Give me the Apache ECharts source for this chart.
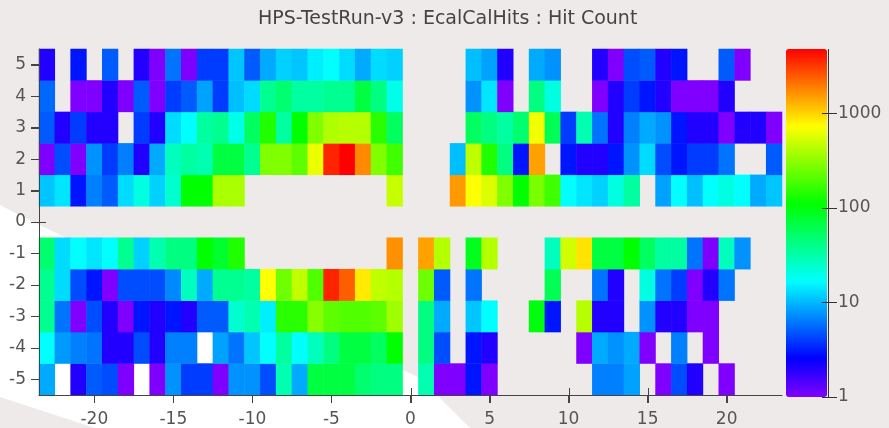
<!DOCTYPE html>
<html><head><meta charset="utf-8">
<script src="https://cdn.jsdelivr.net/npm/echarts@6/dist/echarts.min.js"></script>
<style>html,body{margin:0;padding:0;background:#efeaea}#c{width:889px;height:428px}</style>
</head><body><div id="c"></div>
<script>
// ---- data ----
const titleText = 'HPS-TestRun-v3 : EcalCalHits : Hit Count';
const xCategories = [];
for (let i = -23; i <= 23; i++) xCategories.push(String(i));
const yCategories = ['-5','-4','-3','-2','-1','0','1','2','3','4','5'];
const xTickValues = [-20, -15, -10, -5, 0, 5, 10, 15, 20];
const yTickValues = [-5, -4, -3, -2, -1, 0, 1, 2, 3, 4, 5];
const colorTicks = [1, 10, 100, 1000];
const colorMin = 1;
const colorMax = 4800;
const _ = null;
// each row: columns -23..-1, 0, 1..23
const row5  = [2,_,3,_,5,_,2,1,6,1,4,4,11,5,9,12,11,15,17,13,9,13,12, _,
               _,_,_,10.5,8.5,2,_,9,7.5,_,_,2,1,4.5,5,2,3,_,_,5,1,_,_];
const row4  = [5.5,_,1,1,2,1,5,1,4,5,8.5,4,10.5,13,38,49,34,34,38,38,69,43,20, _,
               _,_,_,7.5,14,1,_,43,21,_,_,1,2,4,3,2,1,1,1,2,_,_,_];
const row3  = [5,2,4,2,2,_,4,2,13,17,34,38,20,55,140,34,110,283,400,430,420,150,55, _,
               _,_,_,55,43,34,49,660,60,4,30,6,2,6.6,9,7.5,3,2,2,1,2,2,1];
const row2  = [1,4.5,1,7.5,4,6.6,2,9,27,34,30,69,69,38,283,283,220,630,3700,4800,1750,283,177, _,
               _,_,10.5,455,140,43,3,1450,_,3,2,2,3,7.5,13,4.5,3,4,4,6,_,_,5];
const row1  = [11,14,3,6.6,5,13,21,12,24,110,110,390,390,_,_,_,_,_,_,_,_,_,480, _,
               _,_,1550,725,560,283,110,270,177,17,14,12,21,34,_,8.5,17,10.5,17,21,17,9,11];
const rowM1 = [49,13,17,14,17,38,12,30,43,43,110,80,140,_,_,_,_,_,_,_,_,_,1650, _,
               1450,420,_,90,420,_,_,_,27,520,890,69,69,110,55,34,34,6,1,27,7.5,_,_];
const rowM2 = [38,13,4.5,3,1,4.5,4.5,4.5,7,27,9,38,38,34,725,250,455,200,3700,2400,850,455,420, _,
               250,5,_,6,_,_,_,_,60,_,_,6,2,_,21,6,4,1,2,6,_,_,_];
const rowM3 = [38,6,1,4.5,2,1,3,2,3,2,5,5,24,30,15,150,150,300,220,200,200,220,360, _,
               43,9,_,11,17,_,_,100,3,_,430,2,2,_,7.5,2,2,1,1,_,_,_,_];
const rowM4 = [17,8,6.6,6,2,2,4.5,2,6.6,6.6,_,8.5,6,11,17,34,17,27,43,69,69,55,110, _,
               43,4.5,_,3,2,_,_,_,_,_,1,9,7.5,9,1,_,6.6,_,1,_,_,_,_];
const rowM5 = [9,_,2,5,4.5,1,_,1,7.5,4,4,1,7.5,7.5,4.5,30,9,69,69,69,49,43,43, _,
               30,1,1,3,1,_,_,_,_,_,_,6.6,6.6,8.5,_,1,4.5,2,_,1,_,_,_];
const rows = { '-5': rowM5, '-4': rowM4, '-3': rowM3, '-2': rowM2, '-1': rowM1,
               '1': row1, '2': row2, '3': row3, '4': row4, '5': row5 };

// ---- build tables for the library ----
const heat = [];
yCategories.forEach((yc, yi) => {
  const r = rows[yc];
  if (!r) return;
  r.forEach((v, xi) => { if (v != null) heat.push([xi, yi, Math.log10(v)]); });
});
const xTickData = xTickValues.map(v => [xCategories.indexOf(String(v)), 0]);
const yTickData = yTickValues.map(v => [0, yCategories.indexOf(String(v))]);

const hueColors = ['#8000ff','#4000ff','#0000ff','#0040ff','#0080ff','#00bfff','#00ffff',
  '#00ffbf','#00ff80','#00ff40','#00ff00','#40ff00','#80ff00','#bfff00','#ffff00',
  '#ffbf00','#ff8000','#ff4000','#ff0000'];

// background swoosh outline (decoration only)
function bez(p0, p1, p2, p3, n) {
  const pts = [];
  for (let k = 0; k <= n; k++) {
    const t = k / n, u = 1 - t;
    pts.push([u*u*u*p0[0] + 3*u*u*t*p1[0] + 3*u*t*t*p2[0] + t*t*t*p3[0],
              u*u*u*p0[1] + 3*u*u*t*p1[1] + 3*u*t*t*p2[1] + t*t*t*p3[1]]);
  }
  return pts;
}
const swoosh = bez([0,205],[150,285],[330,335],[420,378],30).concat([[470,428],[95,428],[0,397]]);

const FONT = 'DejaVu Sans';
const every5 = (i, v) => Number(v) % 5 === 0;
const axisCol = '#444';
const lblCol = '#555';
const cbTicks = colorTicks.map(Math.log10);
const cbMin = Math.log10(colorMin), cbMax = Math.log10(colorMax);
const xMin = Number(xCategories[0]) - 0.5, xMax = Number(xCategories[xCategories.length - 1]) + 0.5;
const yMin = Number(yCategories[0]) - 0.5, yMax = Number(yCategories[yCategories.length - 1]) + 0.5;
const TICK_OUT = 8, TICK_IN = 7;

const chart = echarts.init(document.getElementById('c'), null, {renderer: 'canvas'});
chart.setOption({
  backgroundColor: '#efeaea',
  animation: false,
  title: {
    text: titleText, left: 258, top: 10, padding: 0,
    textStyle: {fontFamily: FONT, fontSize: 19, fontWeight: 'normal', color: '#444'}
  },
  graphic: {elements: [{
    type: 'polygon', silent: true, z: -10,
    shape: {points: swoosh},
    style: {fill: '#ffffff'}
  }]},
  grid: [
    {left: 39, top: 49, width: 743, height: 348},
    {left: 786, top: 49, width: 42, height: 348}
  ],
  xAxis: [
    {type: 'category', gridIndex: 0, position: 'bottom', data: xCategories, boundaryGap: true, z: 10,
     axisLine: {show: true, onZero: false, lineStyle: {color: axisCol, width: 1}},
     axisTick: {show: false},
     axisLabel: {show: true, interval: every5, color: lblCol, fontFamily: FONT, fontSize: 17, margin: 16},
     splitLine: {show: false}},
    // colour-bar frame axis; its split line at 1 draws the bar's right border
    {type: 'value', gridIndex: 1, min: 0, max: 1, interval: 1, z: 10,
     axisLine: {show: false, onZero: false}, axisTick: {show: false}, axisLabel: {show: false},
     splitLine: {show: true, lineStyle: {color: ['rgba(0,0,0,0)', '#333'], width: 1}}},
    // outer part of the x tick marks
    {type: 'value', gridIndex: 0, position: 'bottom', offset: TICK_OUT, z: 10, min: xMin, max: xMax,
     axisLine: {show: false, onZero: false}, axisLabel: {show: false},
     axisTick: {show: true, inside: true, customValues: xTickValues, length: TICK_OUT,
                lineStyle: {color: axisCol, width: 1}},
     splitLine: {show: false}}
  ],
  yAxis: [
    {type: 'category', gridIndex: 0, position: 'left', data: yCategories, boundaryGap: true, z: 10,
     axisLine: {show: true, onZero: false, lineStyle: {color: axisCol, width: 1}},
     axisTick: {show: false},
     axisLabel: {show: true, interval: 0, color: lblCol, fontFamily: FONT, fontSize: 17, margin: 13},
     splitLine: {show: false}},
    // colour bar scale: labels
    {type: 'value', gridIndex: 1, position: 'right', z: 10, min: cbMin, max: cbMax,
     axisLine: {show: false, onZero: false},
     axisTick: {show: false},
     axisLabel: {show: true, customValues: cbTicks, margin: 10,
       formatter: v => String(Math.round(Math.pow(10, v))),
       color: lblCol, fontFamily: FONT, fontSize: 17},
     splitLine: {show: false}},
    // colour bar scale: ticks crossing the bar edge
    {type: 'value', gridIndex: 1, position: 'right', offset: 9, z: 10, min: cbMin, max: cbMax,
     axisLine: {show: false, onZero: false}, axisLabel: {show: false},
     axisTick: {show: true, inside: true, customValues: cbTicks, length: 15, lineStyle: {color: '#333', width: 1}},
     splitLine: {show: false}},
    // outer part of the y tick marks
    {type: 'value', gridIndex: 0, position: 'left', offset: TICK_OUT, z: 10, min: yMin, max: yMax,
     axisLine: {show: false, onZero: false}, axisLabel: {show: false},
     axisTick: {show: true, inside: true, customValues: yTickValues, length: TICK_OUT,
                lineStyle: {color: axisCol, width: 1}},
     splitLine: {show: false}}
  ],
  visualMap: {
    type: 'continuous', seriesIndex: 3, min: cbMin, max: cbMax,
    calculable: false, orient: 'vertical', left: 786, top: 49, padding: 0, z: 1,
    itemWidth: 41, itemHeight: 348, hoverLink: false,
    inRange: {color: hueColors}
  },
  series: [
    // inner part of x tick marks (cells are drawn over it)
    {type: 'custom', xAxisIndex: 0, yAxisIndex: 0, data: xTickData, clip: false, silent: true, z: 1,
     encode: {x: 0, y: 1},
     renderItem: (params, api) => {
       const cs = params.coordSys;
       const x = Math.round(api.coord([api.value(0), api.value(1)])[0]) + 0.5;
       const yb = cs.y + cs.height;
       return {type: 'line', shape: {x1: x, y1: yb - TICK_IN, x2: x, y2: yb + TICK_OUT},
               style: {stroke: axisCol, lineWidth: 1}};
     }},
    // inner part of y tick marks
    {type: 'custom', xAxisIndex: 0, yAxisIndex: 0, data: yTickData, clip: false, silent: true, z: 1,
     encode: {x: 0, y: 1},
     renderItem: (params, api) => {
       const cs = params.coordSys;
       const y = Math.round(api.coord([api.value(0), api.value(1)])[1]) + 0.5;
       const xl = cs.x;
       return {type: 'line', shape: {x1: xl - TICK_OUT, y1: y, x2: xl + TICK_IN, y2: y},
               style: {stroke: axisCol, lineWidth: 1}};
     }},
    // colour bar right-hand border
    {type: 'custom', xAxisIndex: 1, yAxisIndex: 1, data: [[1, cbMin, cbMax]], clip: false, silent: true, z: 10,
     encode: {x: 0, y: [1, 2]},
     renderItem: (params, api) => {
       const p0 = api.coord([api.value(0), api.value(1)]);
       const p1 = api.coord([api.value(0), api.value(2)]);
       const x = Math.round(p0[0]) + 0.5;
       return {type: 'line', shape: {x1: x, y1: p0[1], x2: x, y2: p1[1]},
               style: {stroke: '#333', lineWidth: 1}};
     }},
    {type: 'heatmap', xAxisIndex: 0, yAxisIndex: 0, data: heat, z: 2,
     itemStyle: {borderWidth: 0}, emphasis: {disabled: true}, progressive: 0}
  ]
});
</script></body></html>
